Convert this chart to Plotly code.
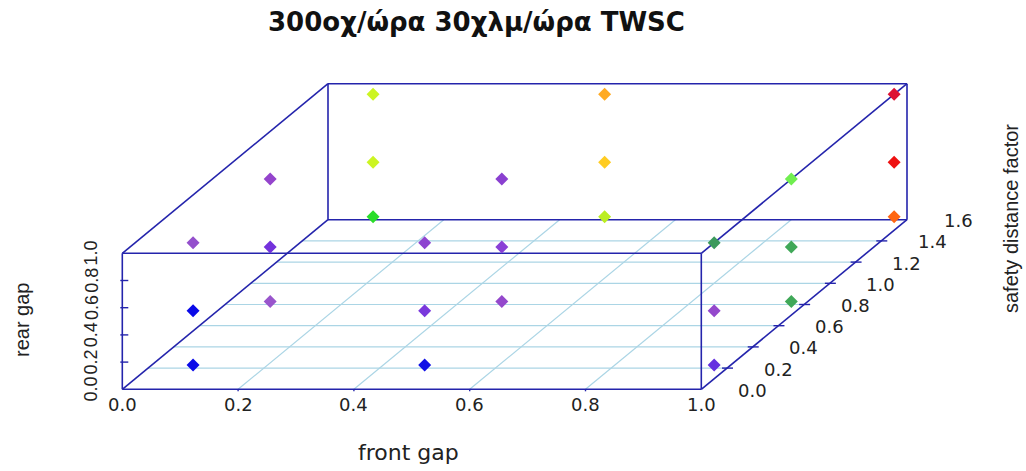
import plotly.graph_objects as go

# ---------------- data ----------------
front_gap = [0.1, 0.1, 0.1, 0.5, 0.5, 0.5, 1.0, 1.0, 1.0,
             0.1, 0.1, 0.1, 0.5, 0.5, 0.5, 1.0, 1.0, 1.0,
             0.1, 0.1, 0.1, 0.5, 0.5, 0.5, 1.0, 1.0, 1.0]
rear_gap = [0.1, 0.5, 1.0, 0.1, 0.5, 1.0, 0.1, 0.5, 1.0,
            0.1, 0.5, 1.0, 0.1, 0.5, 1.0, 0.1, 0.5, 1.0,
            0.1, 0.5, 1.0, 0.1, 0.5, 1.0, 0.1, 0.5, 1.0]
safety_factor = [0.1] * 9 + [0.7] * 9 + [1.5] * 9
point_colors = ["#0A0AE8", "#0A0AE8", "#9450CC",
                "#1010E6", "#7A38DC", "#8E44D0",
                "#6430E0", "#9448CC", "#3C9A5C",
                "#9955CC", "#7432DC", "#9444CC",
                "#9448CC", "#8A40D6", "#8A40D0",
                "#40A858", "#40A858", "#70EE50",
                "#2ADD2A", "#CCF522", "#CCF522",
                "#BBEE22", "#FFCC22", "#FFAA22",
                "#FF6611", "#EE1111", "#DD1133"]

x_ticks = [0.0, 0.2, 0.4, 0.6, 0.8, 1.0]
z_ticks = [0.0, 0.2, 0.4, 0.6, 0.8, 1.0]
y_ticks = [0.0, 0.2, 0.4, 0.6, 0.8, 1.0, 1.2, 1.4, 1.6]
x_lim = (0.0, 1.0)
z_lim = (0.0, 1.0)
y_lim = (0.0, 1.6)

title = "300οχ/ώρα 30χλμ/ώρα TWSC"
x_title = "front gap"
z_title = "rear gap"
y_title = "safety distance factor"

# ---------------- oblique projection (scatterplot3d style) ----------------
W, H = 1026, 471
ox, oy = 122.3, 389.3        # pixel of origin
ux, uz = 579.0, 136.0        # pixels per unit of x and z
depth_dx, depth_dy = 205.7, 169.6   # pixels for whole y range
kx = depth_dx / (y_lim[1] - y_lim[0]) / ux
ky = depth_dy / (y_lim[1] - y_lim[0]) / uz


def proj(x, y, z):
    return x + kx * (y - y_lim[0]), z + ky * (y - y_lim[0])


def seg_trace(segs, color, width):
    xs, ys = [], []
    for (a, b) in segs:
        X1, Y1 = proj(*a)
        X2, Y2 = proj(*b)
        xs += [X1, X2, None]
        ys += [Y1, Y2, None]
    return go.Scatter(x=xs, y=ys, mode="lines", hoverinfo="skip",
                      line=dict(color=color, width=width))


x0, x1 = x_lim
z0, z1 = z_lim
y0, y1 = y_lim

# grid on the floor
grid = []
for yt in y_ticks[1:-1]:
    grid.append(((x0, yt, z0), (x1, yt, z0)))
for xt in x_ticks[1:-1]:
    grid.append(((xt, y0, z0), (xt, y1, z0)))

# box edges
box = []
for yy in (y0, y1):
    box += [((x0, yy, z0), (x1, yy, z0)), ((x0, yy, z1), (x1, yy, z1)),
            ((x0, yy, z0), (x0, yy, z1)), ((x1, yy, z0), (x1, yy, z1))]
for xx in (x0, x1):
    for zz in (z0, z1):
        box.append(((xx, y0, zz), (xx, y1, zz)))

# tick marks
ticks = []
for zt in z_ticks[1:-1]:
    ticks.append(((x0 - 2 / ux, y0, zt), (x0 + 6 / ux, y0, zt)))
for yt in y_ticks[1:-1]:
    ticks.append(((x1 - 5 / ux, yt, z0), (x1 + 6 / ux, yt, z0)))
for xt in x_ticks[1:-1]:
    ticks.append(((xt, y0, z0), (xt, y0, z0 - 2 / uz)))

axis_col = "#2424AC"
fig = go.Figure()
fig.add_trace(seg_trace(grid, "#ABD5E5", 1.2))
fig.add_trace(seg_trace(box, axis_col, 1.6))
fig.add_trace(seg_trace(ticks, axis_col, 1.4))

PX, PY = [], []
for a, b, c in zip(front_gap, safety_factor, rear_gap):
    X, Y = proj(a, b, c)
    PX.append(X)
    PY.append(Y)
fig.add_trace(go.Scatter(x=PX, y=PY, mode="markers",
                         marker=dict(symbol="diamond", size=10,
                                     color=point_colors, line=dict(width=0))))

font_h = "DejaVu Sans, Liberation Sans, Arial, sans-serif"
font_v = "Liberation Sans, Arial, sans-serif"
ann = []
for xt in x_ticks:
    X, Y = proj(xt, y0, z0)
    ann.append(dict(x=X, y=Y - 15 / uz, xref="x", yref="y", text=f"{xt:.1f}",
                    showarrow=False, xanchor="center", yanchor="middle",
                    font=dict(family=font_h, size=18, color="#222")))
for zt in z_ticks:
    X, Y = proj(x0, y0, zt)
    ann.append(dict(x=X - 31 / ux, y=Y, xref="x", yref="y", text=f"{zt:.1f}",
                    textangle=-90, showarrow=False, xanchor="center",
                    yanchor="middle", font=dict(family=font_v, size=18, color="#222")))
for yt in y_ticks:
    X, Y = proj(x1, yt, z0)
    ann.append(dict(x=X + 51 / ux, y=Y - 1 / uz, xref="x", yref="y",
                    text=f"{yt:.1f}", showarrow=False, xanchor="center",
                    yanchor="middle", font=dict(family=font_h, size=18, color="#222")))

ann.append(dict(x=408 / W, y=1 - 452 / H, xref="paper", yref="paper",
                text=x_title, showarrow=False, xanchor="center",
                yanchor="middle", font=dict(family=font_h, size=22, color="#222")))
ann.append(dict(x=22 / W, y=1 - 320 / H, xref="paper", yref="paper",
                text=z_title, textangle=-90, showarrow=False,
                xanchor="center", yanchor="middle",
                font=dict(family=font_v, size=20, color="#222")))
ann.append(dict(x=1011 / W, y=1 - 219 / H, xref="paper", yref="paper",
                text=y_title, textangle=-90, showarrow=False,
                xanchor="center", yanchor="middle",
                font=dict(family=font_v, size=20, color="#222")))
ann.append(dict(x=476 / W, y=1 - 22 / H, xref="paper", yref="paper",
                text=f"<b>{title}</b>", showarrow=False, xanchor="center",
                yanchor="middle", font=dict(family=font_h, size=26, color="#111")))

fig.update_layout(
    width=W, height=H, autosize=False,
    margin=dict(l=0, r=0, t=0, b=0),
    paper_bgcolor="white", plot_bgcolor="white",
    showlegend=False,
    font=dict(family=font_v),
    annotations=ann,
    xaxis=dict(range=[-ox / ux, (W - ox) / ux], visible=False, fixedrange=True),
    yaxis=dict(range=[(oy - H) / uz, oy / uz], visible=False, fixedrange=True),
)

fig.write_html("out.html", config={"displayModeBar": False})
